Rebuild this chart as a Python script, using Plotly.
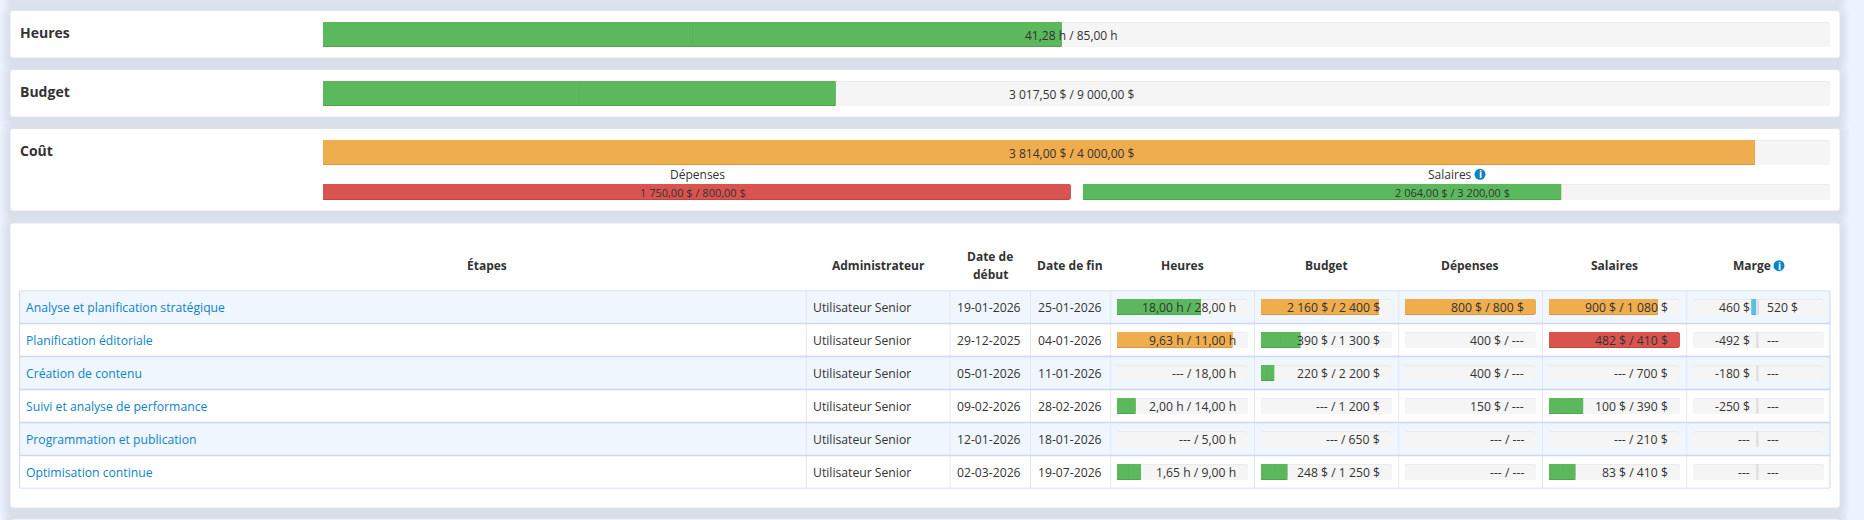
"""
Suivi de projet : barres de progression et tableau des étapes.
"""

import plotly.graph_objects as go

W, H = 1864, 520
FONT = "Open Sans"

# --- données ---------------------------------------------------------------
resume_labels = ["Heures", "Budget", "Coût"]
resume_done = [41.28, 3017.50, 3814.00]
resume_total = [85.00, 9000.00, 4000.00]
resume_units = ["h", "$", "$"]

depenses_done = [1750.00]
depenses_total = [800.00]
salaires_done = [2064.00]
salaires_total = [3200.00]

etapes = [
    "Analyse et planification stratégique",
    "Planification éditoriale",
    "Création de contenu",
    "Suivi et analyse de performance",
    "Programmation et publication",
    "Optimisation continue",
]
administrateur = ["Utilisateur Senior"] * 6
date_debut = ["19-01-2026", "29-12-2025", "05-01-2026", "09-02-2026", "12-01-2026", "02-03-2026"]
date_fin = ["25-01-2026", "04-01-2026", "11-01-2026", "28-02-2026", "18-01-2026", "19-07-2026"]

heures_done = [18.00, 9.63, None, 2.00, None, 1.65]
heures_total = [28.00, 11.00, 18.00, 14.00, 5.00, 9.00]
budget_done = [2160, 390, 220, None, None, 248]
budget_total = [2400, 1300, 2200, 1200, 650, 1250]
dep_done = [800, 400, 400, 150, None, None]
dep_total = [800, None, None, None, None, None]
sal_done = [900, 482, None, 100, None, 83]
sal_total = [1080, 410, 700, 390, 210, 410]
marge_val = [460, -492, -180, -250, None, None]
marge_pct = [520, None, None, None, None, None]

colonnes = ["Heures", "Budget", "Dépenses", "Salaires", "Marge"]

# --- couleurs ----------------------------------------------------------------
GREEN, GREEN_D = "#5cb85c", "#4ca64c"
ORANGE, ORANGE_D = "#f0ad4e", "#d9963a"
RED, RED_D = "#d9534f", "#c4423f"
BLUE, BLUE_D = "#5bc0de", "#46b0d0"
TRACK, TRACK_D = "#f5f5f5", "#ebebeb"
TEXT = "#333333"
LINK = "#0c83c9"
ICON = "#0c83c9"
PAGE = "#edf3fe"
ROW_ALT = "#eff6fe"
ROW_LINE = "#cbd7f5"
COL_LINE = "#e4e7ee"


def px(x):
    return x / W


def py(y):
    return 1 - y / H


def num(v, dec):
    s = f"{v:,.{dec}f}".replace(",", "\u00a0").replace(".", ",")
    return s


def label(done, total, unit, dec):
    a = "---" if done is None else f"{num(done, dec)}\u00a0{unit}"
    b = "---" if total is None else f"{num(total, dec)}\u00a0{unit}"
    return f"{a} / {b}"


def state(done, total):
    if done is None or total is None:
        return None
    r = done / total
    pct = round(min(r, 1) * 100)
    if r > 1:
        return pct, RED, RED_D
    if r >= 0.75:
        return pct, ORANGE, ORANGE_D
    return pct, GREEN, GREEN_D


def rect_path(x0, y0, x1, y1, r):
    # rectangle arrondi, en coordonnées pixels puis converti en "paper"
    pts = [
        ("M", x0 + r, y0), ("L", x1 - r, y0), ("Q", x1, y0, x1, y0 + r),
        ("L", x1, y1 - r), ("Q", x1, y1, x1 - r, y1), ("L", x0 + r, y1),
        ("Q", x0, y1, x0, y1 - r), ("L", x0, y0 + r), ("Q", x0, y0, x0 + r, y0),
    ]
    out = []
    for p in pts:
        coords = []
        for i in range(1, len(p), 2):
            coords.append(f"{px(p[i]):.6f},{py(p[i + 1]):.6f}")
        out.append(p[0] + " ".join(coords))
    return " ".join(out) + " Z"


fig = go.Figure()


def add_bars(xa, ya, cats, done, total, band_px, h_px):
    w = h_px / band_px
    p1 = 1 / band_px
    n = len(cats)
    common = dict(orientation="h", xaxis=xa, yaxis=ya, hoverinfo="skip", showlegend=False)

    # fond de la barre
    fig.add_trace(go.Bar(y=cats, x=[100] * n, width=w, offset=-w / 2,
                         marker=dict(color=TRACK_D, cornerradius=3, line_width=0), **common))
    fig.add_trace(go.Bar(y=cats, x=[100] * n, width=w - p1, offset=-w / 2 + p1,
                         marker=dict(color=TRACK, cornerradius=3, line_width=0), **common))

    rows = [(c, state(d, t)) for c, d, t in zip(cats, done, total) if state(d, t)]
    if not rows:
        return
    ys = [r[0] for r in rows]
    pcts = [r[1][0] for r in rows]
    cols = [r[1][1] for r in rows]
    cols_d = [r[1][2] for r in rows]

    fig.add_trace(go.Bar(y=ys, x=pcts, width=w, offset=-w / 2,
                         marker=dict(color=cols_d, cornerradius=3, line_width=0), **common))
    fig.add_trace(go.Bar(y=ys, x=pcts, width=w - p1, offset=-w / 2,
                         marker=dict(color=cols, cornerradius=3, line_width=0), **common))

    # bout droit carré sauf si la barre est pleine
    sq = [r for r in rows if r[1][0] < 100]
    if sq:
        sy = [r[0] for r in sq]
        sb = [r[1][0] / 2 for r in sq]
        sx = [r[1][0] / 2 for r in sq]
        fig.add_trace(go.Bar(y=sy, x=sx, base=sb, width=w, offset=-w / 2,
                             marker=dict(color=[r[1][2] for r in sq], line_width=0), **common))
        fig.add_trace(go.Bar(y=sy, x=sx, base=sb, width=w - p1, offset=-w / 2,
                             marker=dict(color=[r[1][1] for r in sq], line_width=0), **common))


def note(text, x, y, xref="paper", yref="paper", size=12.2, color=TEXT, bold=False, anchor="center", xshift=0, yshift=0):
    if anchor == "left":
        xshift -= 2
    fig.add_annotation(
        text=f"<b>{text}</b>" if bold else text, x=x, y=y, xref=xref, yref=yref,
        xanchor=anchor, yanchor="middle", showarrow=False, xshift=xshift, yshift=yshift,
        font=dict(family=FONT, size=12 if bold and size == 12.2 else size, color=color),
    )


def info_icon(cx, cy, r=5.5):
    fig.add_shape(type="circle", xref="paper", yref="paper", x0=px(cx - r), x1=px(cx + r),
                  y0=py(cy + r), y1=py(cy - r), fillcolor=ICON, line_width=0, layer="above")
    note("i", px(cx), py(cy), size=10, color="white", bold=True)


# --- cartes --------------------------------------------------------------------
cards = [(10, -40, 1840, 0), (10, 10.5, 1840, 58), (10, 69.5, 1840, 117),
         (10, 128.5, 1840, 211), (10, 223, 1840, 508), (10, 519, 1840, 560)]
shapes = []
for c in cards:
    for s in range(10, 0, -1):
        shapes.append(dict(type="path", xref="paper", yref="paper", layer="below", line_width=0,
                           path=rect_path(c[0] - s, c[1] - s + 3, c[2] + s, c[3] + s + 3, 3 + s),
                           fillcolor="rgba(70,85,125,0.011)"))
for c in cards:
    shapes.append(dict(type="path", xref="paper", yref="paper", layer="below",
                       path=rect_path(*c, 3), fillcolor="white", line=dict(color="#e1e4ea", width=1)))

# --- axes ----------------------------------------------------------------------
MAIN = (323, 1830)
SUB_DEP = (323, 1071)
SUB_SAL = (1083, 1830)
col_tracks = [(1117, 1248), (1261, 1392), (1405, 1536), (1549, 1680)]
marge_c = 1758.5
marge_half = 65.5
MARGE_SPAN = 4300  # échelle de l'axe marge

layout_axes = {}


def add_xaxis(name, dom, rng=(0, 100)):
    layout_axes[name] = dict(domain=[px(dom[0]), px(dom[1])], range=list(rng), visible=False, fixedrange=True)


def add_yaxis(name, top, bottom, cats):
    layout_axes[name] = dict(domain=[py(bottom), py(top)], type="category", categoryorder="array",
                             categoryarray=cats, range=[len(cats) - 0.5, -0.5], visible=False, fixedrange=True)


add_xaxis("xaxis", MAIN)
add_xaxis("xaxis2", SUB_DEP)
add_xaxis("xaxis3", SUB_SAL)
for i, t in enumerate(col_tracks):
    add_xaxis(f"xaxis{i + 4}", t)
add_xaxis("xaxis8", (marge_c - marge_half, marge_c + marge_half), (-MARGE_SPAN, MARGE_SPAN))

add_yaxis("yaxis", 5, 182, resume_labels)
add_yaxis("yaxis2", 184, 200, ["Dépenses"])
add_yaxis("yaxis3", 184, 200, ["Salaires"])
ROW_TOP, ROW_H = 290.5, 33
add_yaxis("yaxis4", ROW_TOP, ROW_TOP + ROW_H * 6, etapes)

# --- résumé ---------------------------------------------------------------------
add_bars("x", "y", resume_labels, resume_done, resume_total, 59, 25)
add_bars("x2", "y2", ["Dépenses"], depenses_done, depenses_total, 16, 16)
add_bars("x3", "y3", ["Salaires"], salaires_done, salaires_total, 16, 16)

for name, d, t, u, cy in zip(resume_labels, resume_done, resume_total, resume_units, [32.3, 91.3, 150]):
    note(name, px(19.6), py(cy), size=14, bold=True, anchor="left")
    note(label(d, t, u, 2), 50, name, "x", "y", size=12, xshift=-5, yshift=-1)

note("Dépenses", px(697), py(174.5), size=12)
note("Salaires", px(1450), py(174.5), size=12)
info_icon(1480, 174.3)
note(label(depenses_done[0], depenses_total[0], "$", 2), 50, "Dépenses", "x2", "y2", size=11, xshift=-4.5)
note(label(salaires_done[0], salaires_total[0], "$", 2), 50, "Salaires", "x3", "y3", size=11, xshift=-4.5)

# --- tableau ---------------------------------------------------------------------
T_L, T_R = 19.6, 1830
for i in range(6):
    if i % 2 == 0:
        shapes.append(dict(type="rect", xref="paper", yref="y4", layer="below", line_width=0,
                           x0=px(T_L), x1=px(T_R), y0=i - 0.5, y1=i + 0.5, fillcolor=ROW_ALT))
for x in [806.3, 950, 1030.5, 1110.7, 1254.5, 1398.7, 1542.5, 1686.7]:
    shapes.append(dict(type="line", xref="paper", yref="y4", layer="below", x0=px(x), x1=px(x),
                       y0=-0.5, y1=5.5, line=dict(color=COL_LINE, width=1)))
for x in [T_L, T_R]:
    shapes.append(dict(type="line", xref="paper", yref="y4", layer="below", x0=px(x), x1=px(x),
                       y0=-0.5, y1=5.5, line=dict(color=ROW_LINE, width=1)))
for i in range(7):
    shapes.append(dict(type="line", xref="paper", yref="y4", layer="below", x0=px(T_L), x1=px(T_R),
                       y0=i - 0.5, y1=i - 0.5, line=dict(color=ROW_LINE, width=1.5)))

HEAD_Y = 265.7
note("Étapes", px(487.3), py(HEAD_Y), bold=True)
note("Administrateur", px(878), py(HEAD_Y), bold=True)
note("Date de", px(990), py(256.7), bold=True)
note("début", px(990), py(274.7), bold=True)
note("Date de fin", px(1070), py(HEAD_Y), bold=True)
for name, cx in zip(colonnes, [1182.4, 1326.6, 1470, 1614, 1751.7]):
    note(name, px(cx), py(HEAD_Y), bold=True)
info_icon(1779, HEAD_Y)

for e, a, d0, d1 in zip(etapes, administrateur, date_debut, date_fin):
    note(e, px(26), e, yref="y4", color=LINK, anchor="left")
    note(a, px(813.3), e, yref="y4", anchor="left")
    note(d0, px(956.5), e, yref="y4", anchor="left")
    note(d1, px(1037.8), e, yref="y4", anchor="left")

table_cols = [
    ("x4", heures_done, heures_total, "h", 2),
    ("x5", budget_done, budget_total, "$", 0),
    ("x6", dep_done, dep_total, "$", 0),
    ("x7", sal_done, sal_total, "$", 0),
]
for xa, done, total, unit, dec in table_cols:
    add_bars(xa, "y4", etapes, done, total, ROW_H, 16)
    for e, d, t in zip(etapes, done, total):
        note(label(d, t, unit, dec), 100, e, xa, "y4", anchor="right", xshift=-10)

# colonne marge : barre divergente autour de zéro
add_bars("x8", "y4", etapes, [None] * 6, [None] * 6, ROW_H, 16)
fig.data[-1].update(base=[-MARGE_SPAN] * 6, x=[MARGE_SPAN * 2] * 6)
fig.data[-2].update(base=[-MARGE_SPAN] * 6, x=[MARGE_SPAN * 2] * 6)

w_m = 16 / ROW_H
pos = [(e, -v) for e, v in zip(etapes, marge_val) if v is not None and v > 0]
common_m = dict(orientation="h", xaxis="x8", yaxis="y4", hoverinfo="skip", showlegend=False)
fig.add_trace(go.Bar(y=[p[0] for p in pos], x=[p[1] for p in pos], width=w_m, offset=-w_m / 2,
                     marker=dict(color=BLUE_D, line_width=0), **common_m))
fig.add_trace(go.Bar(y=[p[0] for p in pos], x=[p[1] for p in pos], width=w_m - 1 / ROW_H, offset=-w_m / 2,
                     marker=dict(color=BLUE, line_width=0), **common_m))
fig.add_trace(go.Bar(y=etapes, x=[MARGE_SPAN * 0.03] * 6, base=[-MARGE_SPAN * 0.025] * 6, width=w_m, offset=-w_m / 2,
                     marker=dict(color="#e2e2e2", line_width=0), **common_m))

for e, v, p in zip(etapes, marge_val, marge_pct):
    left = "---" if v is None else f"{num(v, 0)}\u00a0$"
    right = "---" if p is None else f"{num(p, 0)}\u00a0$"
    note(left, 0, e, "x8", "y4", anchor="right", xshift=-6.5)
    note(right, 0, e, "x8", "y4", anchor="left", xshift=8.4)

fig.update_layout(
    width=W,
    height=H,
    margin=dict(l=0, r=0, t=0, b=0, pad=0),
    paper_bgcolor=PAGE,
    plot_bgcolor="rgba(0,0,0,0)",
    barmode="overlay",
    showlegend=False,
    font=dict(family=FONT, size=12, color=TEXT),
    shapes=shapes,
    **layout_axes,
)

fig.write_html(
    "out.html",
    config={"displayModeBar": False},
    post_script="document.body.style.margin='0';document.body.style.background='%s';" % PAGE,
)
